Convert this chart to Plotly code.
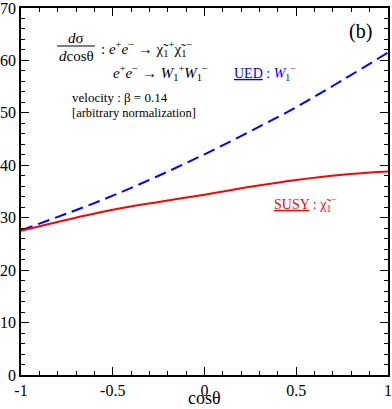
import plotly.graph_objects as go

cos_theta = [-1, -0.75, -0.5, -0.25, 0, 0.25, 0.5, 0.75, 1]
ued_w1 = [27.6, 30.8, 34.2, 38.0, 42.1, 46.5, 51.1, 56.2, 61.5]
susy_chi1 = [27.5, 29.6, 31.5, 33.0, 34.4, 35.9, 37.2, 38.2, 38.8]

x_ticks = [-1, -0.5, 0, 0.5, 1]
x_tick_labels = ["-1", "-0.5", "0", "0.5", "1"]
y_ticks = [0, 10, 20, 30, 40, 50, 60, 70]

FONT = "Liberation Serif, Times New Roman, serif"

fig = go.Figure()
fig.add_trace(go.Scatter(x=cos_theta, y=ued_w1, mode="lines", line=dict(color="#0000ff", width=2, dash="12px,6px", shape="spline"), showlegend=False))
fig.add_trace(go.Scatter(x=cos_theta, y=susy_chi1, mode="lines", line=dict(color="#ff0000", width=2, shape="spline"), showlegend=False))

axis_common = dict(showline=True, linecolor="black", linewidth=1.5, mirror="allticks", ticks="inside",
                   ticklen=8, tickwidth=1.2, tickcolor="black", showgrid=False, zeroline=False,
                   automargin=False, ticklabeloverflow="allow",
                   tickfont=dict(family=FONT, size=16, color="black"))
fig.update_xaxes(range=[-1, 1], tickvals=x_ticks, ticktext=x_tick_labels, ticklabelstandoff=0,
                 minor=dict(ticks="inside", ticklen=4, dtick=0.1, tickcolor="black", tickwidth=1.2),
                 **axis_common)
fig.update_yaxes(range=[0, 70], tickvals=y_ticks, ticklabelstandoff=0,
                 minor=dict(ticks="inside", ticklen=4, dtick=2, tickcolor="black", tickwidth=1.2),
                 **axis_common)

def ann(text, x, y, size=14, color="black", xanchor="left", yanchor="middle"):
    fig.add_annotation(text=text, x=x, y=y, xref="paper", yref="paper", showarrow=False,
                       xanchor=xanchor, yanchor=yanchor, borderpad=0,
                       font=dict(family=FONT, size=size, color=color))

# paper coords: plot x 21..388 px, y 8..375 px
def px(xp):
    return (xp - 21) / 367
def py(yp):
    return (375 - yp) / 367

ann("cosθ", px(204), py(409), size=18, xanchor="center", yanchor="bottom")
ann("(b)", px(373), py(31), size=20, xanchor="right")
ann("<i>d</i>σ", px(76), py(38), size=15, xanchor="center")
fig.add_shape(type="line", xref="paper", yref="paper", x0=px(57), x1=px(95), y0=py(46), y1=py(46), line=dict(color="black", width=1))
ann("<i>d</i>cosθ", px(76), py(56), size=15, xanchor="center")
ann(": <i>e</i><sup>+</sup><i>e</i><sup>−</sup> → χ̃<sub>1</sub><sup>+</sup>χ̃<sub>1</sub><sup>−</sup>", px(100), py(49), size=15)
ann("<i>e</i><sup>+</sup><i>e</i><sup>−</sup> → <i>W</i><sub>1</sub><sup>+</sup><i>W</i><sub>1</sub><sup>−</sup>", px(112), py(73), size=15)
ann("velocity : β = 0.14", px(71), py(97), size=13)
ann("[arbitrary normalization]", px(71), py(113), size=12.5)
ann("<u>UED</u> : <i>W</i><sub>1</sub><sup>−</sup>", px(233), py(73), size=14, color="#0000ff")
ann("<u>SUSY</u> : χ̃<sub>1</sub><sup>−</sup>", px(273), py(204), size=14, color="#ff0000")

fig.update_layout(width=392, height=409, margin=dict(l=21, r=4, t=8, b=34, autoexpand=False),
                  plot_bgcolor="white", paper_bgcolor="white")
fig.write_html("out.html", config={"displayModeBar": False},
               post_script="document.body.style.margin='0';document.body.style.overflow='hidden';")
